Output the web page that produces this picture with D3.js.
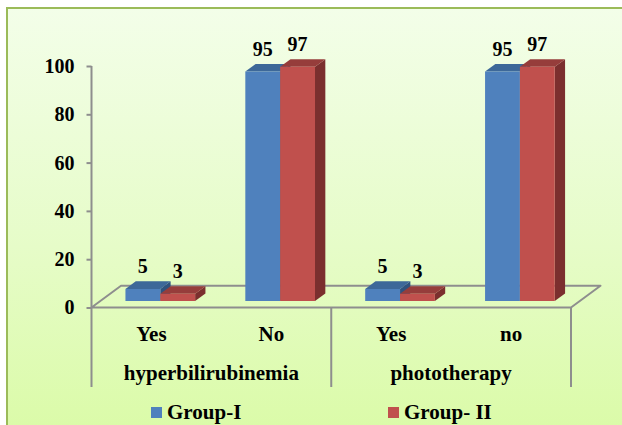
<!DOCTYPE html>
<html>
<head>
<meta charset="utf-8">
<script src="https://cdn.jsdelivr.net/npm/d3@7"></script>
<style>
  html, body { margin: 0; padding: 0; background: #ffffff; }
  svg { display: block; }
  text { font-family: "Liberation Serif", "Times New Roman", serif; font-weight: bold; fill: #000; }
</style>
</head>
<body>
<svg id="chart" width="622" height="425"></svg>
<script>
// ---- data ----
const categories = ["Yes", "No", "Yes", "no"];
const groups = ["hyperbilirubinemia", "phototherapy"];
const seriesNames = ["Group-I", "Group- II"];
const groupI = [5, 95, 5, 95];
const groupII = [3, 97, 3, 97];
const yTicks = [0, 20, 40, 60, 80, 100];

// ---- layout ----
const W = 622, H = 425;
const plot = { left: 91.5, right: 571, bottom: 307.5, top: 66 };
const depth = { dx: 29.5, dy: -21.7 };   // floor depth vector (front -> back)
const barFront = 0.3, barBack = 0.65;    // bar depth as fraction of floor depth
const colors = {
  "Group-I":  { front: "#4f81bd", top: "#3d6899", side: "#2f527e" },
  "Group- II": { front: "#c0504d", top: "#963d3b", side: "#7b2f2e" }
};
const axisColor = "#8e8e8e";
const serif = "'Liberation Serif', 'Times New Roman', serif";

const svg = d3.select("#chart");

// background panel with soft green gradient
const defs = svg.append("defs");
const grad = defs.append("linearGradient").attr("id", "bg").attr("x1", 0).attr("y1", 0).attr("x2", 0).attr("y2", 1);
grad.append("stop").attr("offset", "0%").attr("stop-color", "#f3fee9");
grad.append("stop").attr("offset", "55%").attr("stop-color", "#e6fcc8");
grad.append("stop").attr("offset", "100%").attr("stop-color", "#dafba6");
svg.append("rect").attr("x", 7).attr("y", 8).attr("width", W + 10).attr("height", H + 10)
  .attr("fill", "url(#bg)").attr("stroke", "#9bbb59").attr("stroke-width", 2);

// ---- scales ----
const x = d3.scaleBand().domain(d3.range(categories.length)).range([plot.left, plot.right]);
const y = d3.scaleLinear().domain([0, 100]).range([plot.bottom, plot.top]);
const sub = d3.scaleBand().domain(seriesNames).range([0, x.bandwidth()]).paddingOuter(0.72).paddingInner(0);

// project a (px, value, depthFraction) point onto the page
const P = (px, v, f) => [px + depth.dx * f, y(v) + depth.dy * f];

// ---- floor ----
const floor = [P(plot.left, 0, 0), P(plot.left, 0, 1), P(plot.right, 0, 1), P(plot.right, 0, 0)];
svg.append("polygon").attr("points", floor.map(p => p.join(",")).join(" "))
  .attr("fill", "none").attr("stroke", axisColor).attr("stroke-width", 2).attr("stroke-linejoin", "round");

// ---- y axis ----
const yAxis = d3.axisLeft(y).tickValues(yTicks).tickSize(5).tickPadding(12);
const gy = svg.append("g").attr("transform", `translate(${plot.left},0)`).call(yAxis)
  .attr("font-family", serif).attr("font-size", 20);
gy.select(".domain").remove();
gy.selectAll(".tick line").attr("stroke", axisColor).attr("stroke-width", 2);
gy.selectAll(".tick text").style("font-size", "20px").style("font-family", serif).style("font-weight", "bold").attr("fill", "#000");
svg.append("line").attr("x1", plot.left).attr("x2", plot.left).attr("y1", plot.top).attr("y2", 387)
  .attr("stroke", axisColor).attr("stroke-width", 2);

// group separators below the floor
const perGroup = categories.length / groups.length;
d3.range(1, groups.length + 1).forEach(i => {
  const gx = plot.left + i * perGroup * x.bandwidth();
  svg.append("line").attr("x1", gx).attr("x2", gx).attr("y1", plot.bottom).attr("y2", 387)
    .attr("stroke", axisColor).attr("stroke-width", 2);
});

// ---- 3D bars ----
const series = [
  { name: "Group-I", values: groupI },
  { name: "Group- II", values: groupII }
];
const bars = svg.append("g");
categories.forEach((c, i) => {
  series.forEach(s => {
    const v = s.values[i];
    const x0 = x(i) + sub(s.name), x1 = x0 + sub.bandwidth();
    const col = colors[s.name];
    const poly = (pts, fill) => bars.append("polygon").attr("points", pts.map(p => p.join(",")).join(" ")).attr("fill", fill);
    // right side
    poly([P(x1, 0, barFront), P(x1, v, barFront), P(x1, v, barBack), P(x1, 0, barBack)], col.side);
    // top
    poly([P(x0, v, barFront), P(x1, v, barFront), P(x1, v, barBack), P(x0, v, barBack)], col.top);
    // front
    poly([P(x0, 0, barFront), P(x1, 0, barFront), P(x1, v, barFront), P(x0, v, barFront)], col.front);
    // value label
    const lp = P((x0 + x1) / 2, v, barBack);
    bars.append("text").attr("x", (x0 + x1) / 2 + depth.dx * barFront).attr("y", lp[1] - 8)
      .attr("text-anchor", "middle").style("font-size", "20px").text(v);
  });
});

// ---- category & group labels ----
categories.forEach((c, i) => {
  svg.append("text").attr("x", x(i) + x.bandwidth() / 2).attr("y", 341)
    .attr("text-anchor", "middle").style("font-size", "21px").text(c);
});
groups.forEach((g, i) => {
  svg.append("text").attr("x", plot.left + (i + 0.5) * perGroup * x.bandwidth()).attr("y", 380)
    .attr("text-anchor", "middle").style("font-size", "21px").text(g);
});

// ---- legend ----
const legendX = [151, 388];
series.forEach((s, i) => {
  const g = svg.append("g").attr("transform", `translate(${legendX[i]},407)`);
  g.append("rect").attr("width", 11).attr("height", 11).attr("fill", colors[s.name].front);
  g.append("text").attr("x", 16).attr("y", 12).style("font-size", "21px").text(s.name);
});
</script>
</body>
</html>
